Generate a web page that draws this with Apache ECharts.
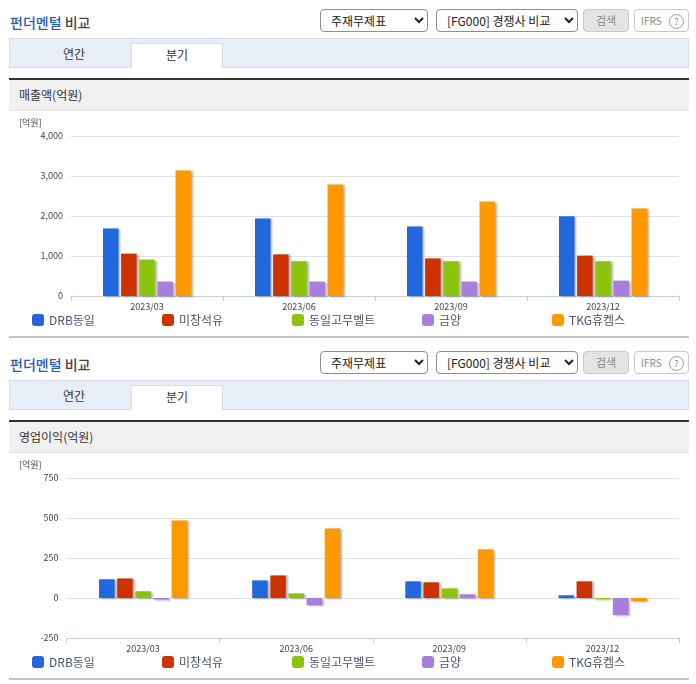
<!DOCTYPE html>
<html>
<head>
<meta charset="utf-8">
<script src="https://cdn.jsdelivr.net/npm/echarts@6/dist/echarts.min.js"></script>
<style>
html, body { margin: 0; padding: 0; background: #fff; }
body { width: 696px; height: 684px; position: relative; overflow: hidden; font-family: "Noto Sans CJK KR", sans-serif; color: #333; }
.sec { position: absolute; left: 0; width: 696px; height: 342px; }
.sec > * { position: absolute; box-sizing: border-box; }
.ttl { left: 10px; top: 12px; font-size: 14px; line-height: 20px; font-weight: 500; color: #444; }
.ttl b { color: #2d5cae; font-weight: 500; }
select { font-family: "Noto Sans CJK KR", sans-serif; font-size: 12px; color: #222; background: #fff; border: 1px solid #8f8f8f; border-radius: 4px; height: 23px; top: 9px; padding: 0 0 0 6px; }
.s1 { left: 320px; width: 108px; }
.s2 { left: 436px; width: 142px; }
.btn { top: 9px; height: 23px; border-radius: 4px; font-size: 11px; line-height: 21px; text-align: center; }
.srch { left: 583px; width: 46px; background: #e4e4e4; border: 1px solid #c8c8c8; color: #888; }
.ifrs { left: 634px; width: 55px; background: #fff; border: 1px solid #c8c8c8; color: #888; font-size: 10px; padding-left: 6px; text-align: left; }
.ifrs i { position: absolute; left: 34px; top: 4px; width: 13px; height: 13px; border: 1px solid #999; border-radius: 50%; font-style: normal; font-size: 9px; line-height: 13px; text-align: center; }
.band { left: 9px; top: 38px; width: 680px; height: 30px; background: #e8eef8; border: 1px solid #d6deea; }
.tab { top: 41px; height: 27px; font-size: 12px; line-height: 25px; text-align: center; color: #333; }
.t1 { left: 40px; width: 68px; }
.t2 { left: 131px; top: 43px; height: 25px; width: 92px; line-height: 21px; background: #fff; border: 1px solid #d6deea; border-bottom: 0; }
.head { left: 9px; top: 78px; width: 680px; height: 33px; background: #f0f0f0; border-top: 2px solid #333; border-bottom: 1px solid #e4e4e4; font-size: 12px; line-height: 30px; padding-left: 10px; }
.chart { left: 0; top: 111px; width: 696px; height: 224px; }
.foot { left: 9px; top: 336px; width: 680px; height: 2px; background: #c4c4c4; }
</style>
</head>
<body>
<script>
var periods = ['2023/03', '2023/06', '2023/09', '2023/12'];
var names = ['DRB동일', '미창석유', '동일고무벨트', '금양', 'TKG휴켐스'];
var colors = ['#2168de', '#cc3300', '#8cc40c', '#a87ddc', '#ff9900'];

var salesDrb = [1690, 1940, 1740, 1995];
var salesMichang = [1060, 1040, 940, 1010];
var salesDongil = [910, 870, 870, 870];
var salesKumyang = [360, 360, 360, 385];
var salesTkg = [3140, 2790, 2360, 2190];

var profitDrb = [117, 110, 104, 17];
var profitMichang = [122, 141, 98, 104];
var profitDongil = [42, 29, 60, -8];
var profitKumyang = [-10, -46, 23, -107];
var profitTkg = [485, 435, 304, -20];

var font = '"Noto Sans CJK KR", sans-serif';

function addSection(top, heading, values, axisMin, axisMax, step, gridLeft, gridTop) {
    var sec = document.createElement('div');
    sec.className = 'sec';
    sec.style.top = top + 'px';
    sec.innerHTML =
        '<div class="ttl"><b>펀더멘털</b> 비교</div>' +
        '<select class="s1"><option>주재무제표</option></select>' +
        '<select class="s2"><option>[FG000] 경쟁사 비교</option></select>' +
        '<div class="btn srch">검색</div>' +
        '<div class="btn ifrs">IFRS<i>?</i></div>' +
        '<div class="band"></div>' +
        '<div class="tab t1">연간</div>' +
        '<div class="tab t2">분기</div>' +
        '<div class="head">' + heading + '</div>' +
        '<div class="chart"></div>' +
        '<div class="foot"></div>';
    document.body.appendChild(sec);

    var myChart = echarts.init(sec.querySelector('.chart'), null, { renderer: 'canvas' });

    var legends = names.map(function (n, i) {
        return {
            left: 27 + i * 130, top: 198,
            data: [n],
            icon: 'roundRect', itemWidth: 12, itemHeight: 12, itemGap: 5,
            selectedMode: false,
            textStyle: { fontFamily: font, fontSize: 12, color: '#4a5468' }
        };
    });

    var series = names.map(function (n, i) {
        return {
            name: n, type: 'bar', data: values[i],
            barWidth: 15.5, barGap: '17%',
            itemStyle: { color: colors[i], shadowColor: 'rgba(0,0,0,0.3)', shadowBlur: 2, shadowOffsetX: 2, shadowOffsetY: 1 }
        };
    });

    myChart.setOption({
        animation: false,
        title: { text: '[억원]', left: 14, top: 2, textStyle: { fontFamily: font, fontSize: 9, fontWeight: 'normal', color: '#444' } },
        legend: legends,
        grid: { left: gridLeft, right: 17, top: gridTop, height: 160 },
        xAxis: {
            type: 'category', data: periods,
            axisLine: { onZero: false, lineStyle: { color: '#c0d0e0' } },
            axisTick: { show: true, length: 5, lineStyle: { color: '#c0d0e0' } },
            axisLabel: { fontFamily: font, fontSize: 9, color: '#444', margin: 6 }
        },
        yAxis: {
            type: 'value', min: axisMin, max: axisMax, interval: step,
            axisLine: { show: false }, axisTick: { show: false },
            axisLabel: {
                fontFamily: font, fontSize: 9, color: '#444', margin: 8, padding: [2, 0, 0, 0],
                formatter: function (v) { return v.toLocaleString('en-US'); }
            },
            splitLine: { lineStyle: { color: '#e2e2e2' } }
        },
        series: series
    });
}

addSection(0, '매출액(억원)', [salesDrb, salesMichang, salesDongil, salesKumyang, salesTkg], 0, 4000, 1000, 71, 25);
addSection(342, '영업이익(억원)', [profitDrb, profitMichang, profitDongil, profitKumyang, profitTkg], -250, 750, 250, 66.5, 25);
</script>
</body>
</html>
